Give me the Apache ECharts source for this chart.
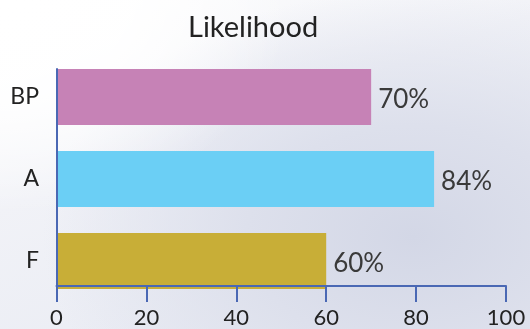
<!DOCTYPE html>
<html>
<head>
<meta charset="utf-8">
<script src="https://cdn.jsdelivr.net/npm/echarts@6/dist/echarts.min.js"></script>
<style>
  html, body { margin: 0; padding: 0; }
  #chart {
    width: 530px; height: 329px;
    background:
      radial-gradient(ellipse 55% 65% at 0% 0%, rgba(255,255,255,1) 0%, rgba(255,255,255,0.9) 45%, rgba(255,255,255,0) 100%),
      radial-gradient(ellipse 70% 75% at 78% 72%, #d3d7e6 0%, #dde0ec 45%, rgba(236,238,245,0) 100%),
      linear-gradient(160deg, #ffffff 0%, #f1f2f7 40%, #e6e9f2 100%);
  }
</style>
</head>
<body>
<div id="chart"></div>
<script>
// Chart content
const titleText = 'Likelihood';
const categories = ['BP', 'A', 'F'];
const likelihood = [70, 84, 60];
const barColors = ['#c682b6', '#6bcff5', '#c8ae37'];
const axisTicks = [0, 20, 40, 60, 80, 100];

const axisBlue = '#4a68b4';
const font = 'Lato, "Open Sans", sans-serif';

const chart = echarts.init(document.getElementById('chart'), null, { renderer: 'canvas' });

chart.setOption({
  animation: false,
  title: {
    text: titleText,
    left: 183,
    top: 8,
    textStyle: { fontFamily: font, fontSize: 29, fontWeight: 'normal', color: '#222' }
  },
  grid: [
    // bar area: three 82px category bands
    { left: 56.5, right: 24, top: 56, height: 246 },
    // axis frame
    { left: 56.5, right: 24, top: 69, height: 219.7 }
  ],
  xAxis: [
    {
      gridIndex: 0, type: 'value', min: 0, max: 100, interval: 20,
      show: false
    },
    {
      gridIndex: 1, type: 'value', min: axisTicks[0], max: axisTicks[axisTicks.length - 1], interval: 20,
      z: 5,
      axisLine: { show: true, lineStyle: { color: axisBlue, width: 2 } },
      axisTick: { show: true, length: 16, lineStyle: { color: axisBlue, width: 2 } },
      axisLabel: { margin: 21, fontFamily: font, fontSize: 22, color: '#222' },
      splitLine: { show: false }
    }
  ],
  yAxis: [
    {
      gridIndex: 0, type: 'category', data: categories, inverse: true,
      axisLine: { show: false },
      axisTick: { show: false },
      axisLabel: {
        margin: 17.5, fontFamily: font, fontSize: 23, color: '#222',
        padding: [0, 0, 10, 0]
      }
    },
    {
      gridIndex: 1, type: 'value', min: 0, max: 1,
      z: 5,
      axisLine: { show: true, lineStyle: { color: axisBlue, width: 2 } },
      axisTick: { show: false },
      axisLabel: { show: false },
      splitLine: { show: false }
    }
  ],
  series: [
    {
      type: 'bar',
      xAxisIndex: 0,
      yAxisIndex: 0,
      barWidth: 56,
      data: likelihood.map((v, i) => ({ value: v, itemStyle: { color: barColors[i] } })),
      label: {
        show: true,
        position: 'right',
        distance: 7,
        offset: [0, 3],
        formatter: '{c}%',
        fontFamily: font,
        fontSize: 26,
        fontWeight: 'normal',
        color: '#3a3a3a'
      }
    }
  ]
});
</script>
</body>
</html>
